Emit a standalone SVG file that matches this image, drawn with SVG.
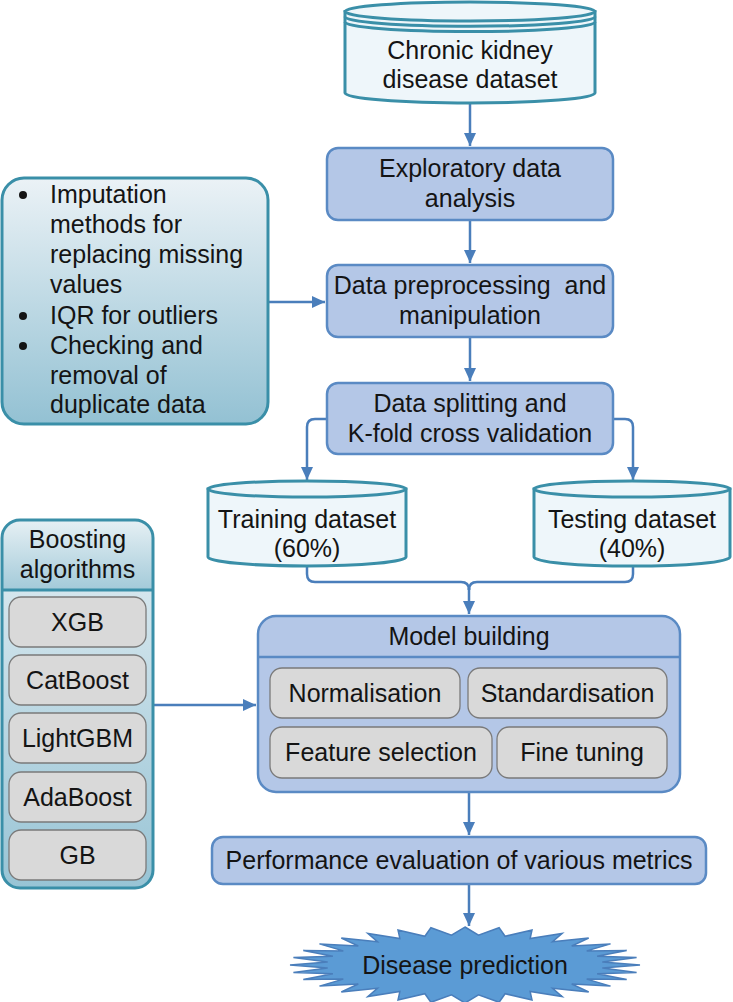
<svg xmlns="http://www.w3.org/2000/svg" width="733" height="1002" viewBox="0 0 733 1002">
<style>
text{font-family:"Liberation Sans",Arial,sans-serif;font-size:25px;fill:#141414;text-anchor:middle}
.l{text-anchor:start}
.proc{fill:#b4c7e7;stroke:#5a8ac4;stroke-width:2.5}
.cyl{fill:#eef6fa;stroke:#3a8fa8;stroke-width:3}
.cylline{fill:none;stroke:#3a8fa8;stroke-width:3}
.gray{fill:#d9d9d9;stroke:#7a7a7a;stroke-width:1.3}
.teal{stroke:#3a8fa8;stroke-width:3}
.conn{fill:none;stroke:#4a7ebb;stroke-width:2.5}
.pre{white-space:pre}
</style>
<defs>
<marker id="ah" markerUnits="userSpaceOnUse" markerWidth="14" markerHeight="12" refX="13" refY="6" orient="auto">
<path d="M0,0 L13,6 L0,12 Z" fill="#4a7ebb"/>
</marker>
<linearGradient id="gImp" x1="0" y1="0" x2="0" y2="1">
<stop offset="0" stop-color="#ebf2f6"/>
<stop offset="1" stop-color="#93c1d3"/>
</linearGradient>
<linearGradient id="gHead" x1="0" y1="0" x2="0" y2="1">
<stop offset="0" stop-color="#e6f0f4"/>
<stop offset="1" stop-color="#a3cad9"/>
</linearGradient>
<linearGradient id="gBody" x1="0" y1="0" x2="0" y2="1">
<stop offset="0" stop-color="#e3eef3"/>
<stop offset="1" stop-color="#98c4d5"/>
</linearGradient>
</defs>

<g id="connectors">
<path class="conn" d="M470,104 V146" marker-end="url(#ah)"/>
<path class="conn" d="M470,220 V263" marker-end="url(#ah)"/>
<path class="conn" d="M268,302 H325" marker-end="url(#ah)"/>
<path class="conn" d="M470,337 V381" marker-end="url(#ah)"/>
<path class="conn" d="M327,419 H315 Q307,419 307,427 V480" marker-end="url(#ah)"/>
<path class="conn" d="M613,419 H625 Q633,419 633,427 V480" marker-end="url(#ah)"/>
<path class="conn" d="M307,566 V574 Q307,582 315,582 H461 Q469,582 469,590"/>
<path class="conn" d="M633,566 V574 Q633,582 625,582 H477 Q469,582 469,590"/>
<path class="conn" d="M469,588 V614" marker-end="url(#ah)"/>
<path class="conn" d="M153,705 H256" marker-end="url(#ah)"/>
<path class="conn" d="M469,792 V835" marker-end="url(#ah)"/>
<path class="conn" d="M469,884 V926" marker-end="url(#ah)"/>
</g>

<g id="ckd-dataset">
<path class="cyl" d="M345,11.5 V93 A125,10 0 0 0 595,93 V11.5 Z"/>
<ellipse class="cyl" cx="470" cy="11.5" rx="125" ry="9.5"/>
<path class="cylline" d="M345,16.8 A125,9.5 0 0 0 595,16.8"/>
<path class="cylline" d="M345,22.1 A125,9.5 0 0 0 595,22.1"/>
<text x="470" y="59">Chronic kidney</text>
<text x="470" y="88">disease dataset</text>
</g>

<g id="eda">
<rect class="proc" x="327" y="148" width="286" height="72" rx="11"/>
<text x="470" y="177">Exploratory data</text>
<text x="470" y="207">analysis</text>
</g>

<g id="preprocessing">
<rect class="proc" x="327" y="265" width="286" height="72" rx="11"/>
<text class="pre" x="470" y="294">Data preprocessing  and</text>
<text x="470" y="324">manipulation</text>
</g>

<g id="imputation">
<rect x="2" y="178" width="266" height="246" rx="22" fill="url(#gImp)" class="teal"/>
<circle cx="23" cy="195" r="4" fill="#141414"/>
<circle cx="23" cy="316" r="4" fill="#141414"/>
<circle cx="23" cy="346" r="4" fill="#141414"/>
<text class="l" x="50" y="203">Imputation</text>
<text class="l" x="50" y="233">methods for</text>
<text class="l" x="50" y="263">replacing missing</text>
<text class="l" x="50" y="293">values</text>
<text class="l" x="50" y="324">IQR for outliers</text>
<text class="l" x="50" y="354">Checking and</text>
<text class="l" x="50" y="384">removal of</text>
<text class="l" x="50" y="413">duplicate data</text>
</g>

<g id="splitting">
<rect class="proc" x="327" y="383" width="286" height="71" rx="11"/>
<text x="470" y="412">Data splitting and</text>
<text x="470" y="442">K-fold cross validation</text>
</g>

<g id="training">
<path class="cyl" d="M208,489 V557 A99,9 0 0 0 406,557 V489 Z"/>
<ellipse class="cyl" cx="307" cy="489" rx="99" ry="8"/>
<text x="307" y="528">Training dataset</text>
<text x="307" y="557">(60%)</text>
</g>

<g id="testing">
<path class="cyl" d="M534,489 V557 A97,9 0 0 0 730,557 V489 Z"/>
<ellipse class="cyl" cx="632" cy="489" rx="98" ry="8"/>
<text x="632" y="528">Testing dataset</text>
<text x="632" y="557">(40%)</text>
</g>

<g id="boosting">
<rect x="2" y="520" width="151" height="368" rx="18" fill="url(#gBody)"/>
<path d="M2,590 V538 Q2,520 20,520 H135 Q153,520 153,538 V590 Z" fill="url(#gHead)"/>
<rect x="2" y="520" width="151" height="368" rx="18" fill="none" class="teal"/>
<line x1="2" y1="590" x2="153" y2="590" class="teal"/>
<text x="77.5" y="548">Boosting</text>
<text x="77.5" y="578">algorithms</text>
<rect class="gray" x="9" y="597" width="137" height="50" rx="12"/>
<text x="77.5" y="631">XGB</text>
<rect class="gray" x="9" y="655" width="137" height="50" rx="12"/>
<text x="77.5" y="689">CatBoost</text>
<rect class="gray" x="9" y="713" width="137" height="50" rx="12"/>
<text x="77.5" y="747">LightGBM</text>
<rect class="gray" x="9" y="772" width="137" height="50" rx="12"/>
<text x="77.5" y="806">AdaBoost</text>
<rect class="gray" x="9" y="830" width="137" height="50" rx="12"/>
<text x="77.5" y="864">GB</text>
</g>

<g id="model-building">
<rect class="proc" x="258" y="616" width="422" height="176" rx="18"/>
<line x1="258" y1="657" x2="680" y2="657" stroke="#5a8ac4" stroke-width="2.5"/>
<text x="469" y="645">Model building</text>
<rect class="gray" x="270" y="668" width="190" height="50" rx="12"/>
<text x="365" y="702">Normalisation</text>
<rect class="gray" x="468" y="668" width="199" height="50" rx="12"/>
<text x="567.5" y="702">Standardisation</text>
<rect class="gray" x="270" y="727" width="222" height="51" rx="12"/>
<text x="381" y="761">Feature selection</text>
<rect class="gray" x="497" y="727" width="170" height="51" rx="12"/>
<text x="582" y="761">Fine tuning</text>
</g>

<g id="performance">
<rect class="proc" x="212" y="837" width="494" height="47" rx="11"/>
<text x="459" y="869">Performance evaluation of various metrics</text>
</g>

<g id="disease-prediction">
<polygon fill="#5b9bd5" stroke="#4a7ebb" stroke-width="1.5" points="465,927 478.5,935.1 499.1,927.7 505.1,936.3 532,929.9 530.1,938.5 562.2,933.4 552.5,941.8 588.7,938.1 571.7,946 610.5,943.9 586.7,950.9 626.7,950.5 597.1,956.3 636.6,957.6 602.3,962.1 640,965 602.3,967.9 636.6,972.4 597.1,973.7 626.7,979.5 586.7,979.1 610.5,986.1 571.7,984 588.7,991.9 552.5,988.2 562.2,996.6 530.1,991.5 532,1000.1 505.1,993.7 499.1,1002.3 478.5,994.9 465,1003 451.5,994.9 430.9,1002.3 424.9,993.7 398,1000.1 399.9,991.5 367.8,996.6 377.5,988.2 341.3,991.9 358.3,984 319.5,986.1 343.3,979.1 303.3,979.5 332.9,973.7 293.4,972.4 327.7,967.9 290,965 327.7,962.1 293.4,957.6 332.9,956.3 303.3,950.5 343.3,950.9 319.5,943.9 358.3,946 341.3,938.1 377.5,941.8 367.8,933.4 399.9,938.5 398,929.9 424.9,936.3 430.9,927.7 451.5,935.1"/>
<text x="465" y="974">Disease prediction</text>
</g>
</svg>
